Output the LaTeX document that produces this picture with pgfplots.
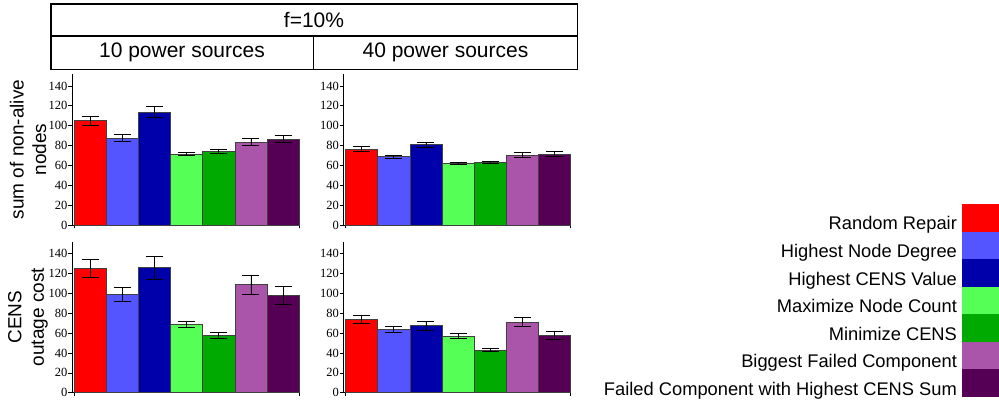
\documentclass[border=0pt]{standalone}
\usepackage{pgfplots}
\pgfplotsset{compat=1.18}
\usepackage{fontspec}
\setmainfont{Liberation Sans}
\newfontfamily\tickfont{Liberation Serif}
\definecolor{cRed}{RGB}{255,0,0}
\definecolor{cLBlue}{RGB}{85,85,255}
\definecolor{cDBlue}{RGB}{0,0,170}
\definecolor{cLGreen}{RGB}{85,255,85}
\definecolor{cGreen}{RGB}{0,170,0}
\definecolor{cPurple}{RGB}{170,85,170}
\definecolor{cDPurple}{RGB}{85,0,85}
\pgfplotsset{panel/.style={
  scale only axis, width=227.1pt, height=151pt, anchor=south west,
  xmin=-0.562, xmax=6.5, ymin=0, ymax=152,
  axis x line=bottom, axis y line=left,
  axis line style={-, black, line width=0.8pt},
  xtick={-0.5,6.5}, xticklabels={}, ytick={0,20,...,140},
  tick align=outside, major tick length=3.5pt,
  tick style={black, line width=0.6pt},
  /pgf/number format/assume math mode=true,
  yticklabel style={font=\tickfont\fontsize{12.5}{12.5}\selectfont, inner sep=1pt},
  ybar, bar width=32.1pt, bar shift=0pt, clip=false,
  error bars/y dir=both, error bars/y explicit,
  error bars/error mark=|,
  error bars/error bar style={black, line width=0.7pt},
  error bars/error mark options={black, mark size=8.5pt, line width=0.7pt},
  ylabel style={at={(axis description cs:-0.1937,0.5)}, anchor=center,
    align=center, font=\fontsize{19}{22.5}\selectfont},
}}
\newcommand{\onebar}[4]{\addplot[fill=#1, draw=black!75, line width=0.5pt] coordinates {(#2,#3) +- (0,#4)};}
\begin{document}
\begin{tikzpicture}[x=1pt,y=1pt]
\useasboundingbox (0,0) rectangle (999,401);
% header table
\draw[line width=1.2pt] (51,397) rectangle (577.5,331.7);
\draw[line width=1.2pt] (51,365) -- (577.5,365);
\draw[line width=1.2pt] (313.5,365) -- (313.5,331.7);
\node[font=\fontsize{21}{24}\selectfont] at (314,381) {f=10\%};
\node[font=\fontsize{21}{24}\selectfont] at (182,348.3) {10 power sources};
\node[font=\fontsize{21}{24}\selectfont] at (445.5,348.3) {40 power sources};
% top-left
\begin{axis}[panel, at={(72pt,176pt)}, ylabel={sum of non-alive\\nodes}]
\onebar{cRed}{0}{105}{4.5}
\onebar{cLBlue}{1}{87.6}{3.3}
\onebar{cDBlue}{2}{113.8}{5.7}
\onebar{cLGreen}{3}{71.5}{1.7}
\onebar{cGreen}{4}{74}{1.7}
\onebar{cPurple}{5}{83.6}{3.3}
\onebar{cDPurple}{6}{86.7}{3.2}
\end{axis}
% top-right
\begin{axis}[panel, at={(343.5pt,176pt)}]
\onebar{cRed}{0}{76.7}{2.5}
\onebar{cLBlue}{1}{68.7}{1.5}
\onebar{cDBlue}{2}{80.8}{2.5}
\onebar{cLGreen}{3}{61.8}{1}
\onebar{cGreen}{4}{63.5}{1}
\onebar{cPurple}{5}{70.5}{2.3}
\onebar{cDPurple}{6}{71.5}{2.3}
\end{axis}
% bottom-left
\begin{axis}[panel, at={(72pt,8.3pt)}, ylabel={CENS\\outage cost}]
\onebar{cRed}{0}{125.4}{9}
\onebar{cLBlue}{1}{99.4}{7}
\onebar{cDBlue}{2}{126}{11.6}
\onebar{cLGreen}{3}{68.7}{3}
\onebar{cGreen}{4}{57.8}{2.8}
\onebar{cPurple}{5}{109}{9.6}
\onebar{cDPurple}{6}{98}{9}
\end{axis}
% bottom-right with legend
\begin{axis}[panel, at={(343.5pt,8.3pt)},
  legend style={at={(axis description cs:2.886,-0.028)}, anchor=south east,
    draw=none, fill=none, inner sep=0pt, outer sep=0pt, row sep=0pt, column sep=5pt,
    font=\fontsize{18.3}{22}\selectfont, nodes={inner sep=0pt}},
  legend plot pos=right, legend cell align=right,
  legend image code/.code={\fill[#1, draw=none] (0pt,-7.4pt) rectangle (37pt,20.17pt);}]
\onebar{cRed}{0}{73.8}{3.7}
\addlegendentry{Random Repair}
\onebar{cLBlue}{1}{63.9}{2.9}
\addlegendentry{Highest Node Degree}
\onebar{cDBlue}{2}{67.5}{4.5}
\addlegendentry{Highest CENS Value}
\onebar{cLGreen}{3}{57.3}{2.4}
\addlegendentry{Maximize Node Count}
\onebar{cGreen}{4}{43.2}{1.4}
\addlegendentry{Minimize CENS}
\onebar{cPurple}{5}{71.2}{4.6}
\addlegendentry{Biggest Failed Component}
\onebar{cDPurple}{6}{58.1}{3.9}
\addlegendentry{Failed Component with Highest CENS Sum}
\end{axis}
\end{tikzpicture}
\end{document}
